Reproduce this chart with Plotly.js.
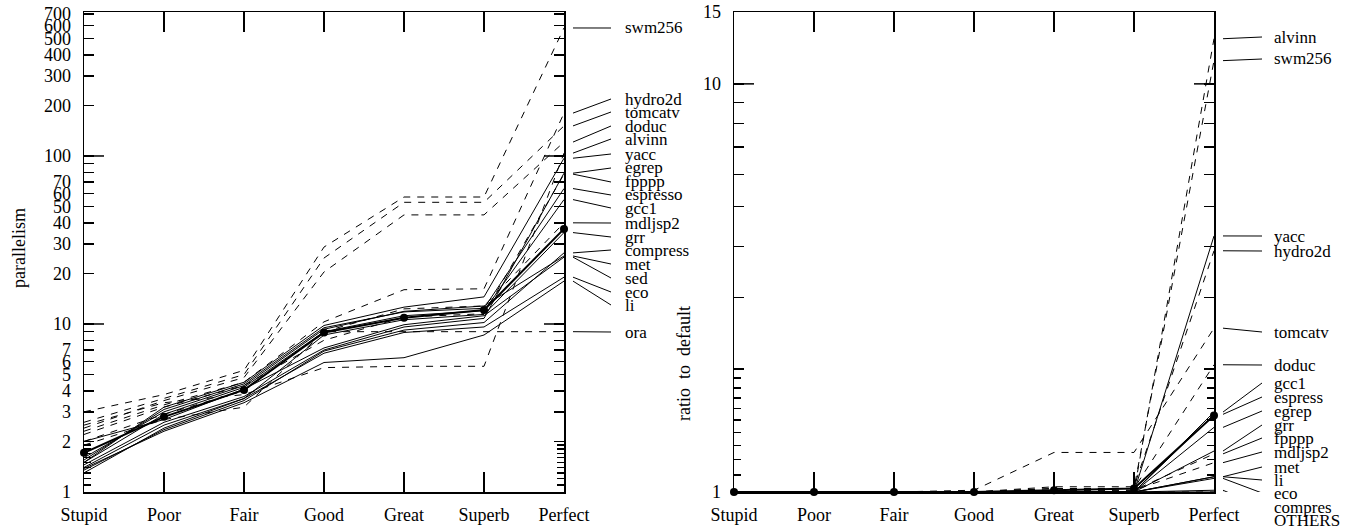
<!DOCTYPE html>
<html><head><meta charset="utf-8">
<script src="https://cdn.plot.ly/plotly-3.0.1.min.js"></script>
<style>html,body{margin:0;padding:0;background:#fff}#chart{width:1363px;height:529px}</style>
</head><body><div id="chart"></div>
<script>
// ---------- categories ----------
const models = ['Stupid','Poor','Fair','Good','Great','Superb','Perfect'];
const benchmarks = ['swm256','hydro2d','tomcatv','doduc','alvinn','yacc','egrep','fpppp','espresso','gcc1','mdljsp2','grr','compress','met','sed','eco','li','ora'];
const numericBenchmarks = ['swm256','hydro2d','tomcatv','doduc','alvinn','fpppp','mdljsp2','ora'];

// ---------- left: parallelism ----------
const parSwm256   = [3.0, 3.8, 5.3, 28.7, 57, 57, 578];
const parTomcatv  = [2.6, 3.6, 5.0, 24.7, 53, 53, 151];
const parDoduc    = [2.4, 3.5, 4.8, 20.4, 44.6, 44.6, 121];
const parHydro2d  = [2.3, 3.3, 4.5, 10.3, 16, 16.2, 180];
const parFpppp    = [2.2, 3.2, 4.3, 8.0, 11.0, 11.5, 78];
const parMdljsp2  = [2.0, 2.9, 4.0, 9.0, 12.3, 12.8, 40];
const parAlvinn   = [2.5, 3.4, 3.8, 5.5, 5.6, 5.6, 104];
const parOra      = [1.9, 2.7, 3.2, 9.0, 9.0, 9.0, 9.0];
const parYacc     = [1.5, 3.2, 4.5, 9.8, 12.6, 14.5, 97];
const parEgrep    = [1.45, 2.6, 3.7, 7.0, 9.6, 10.8, 79];
const parEspresso = [1.55, 3.1, 4.4, 9.5, 11.8, 12.4, 64];
const parGcc1     = [1.5, 2.9, 4.2, 9.0, 11.2, 12.0, 55];
const parGrr      = [1.4, 2.5, 3.6, 8.6, 10.6, 11.4, 35];
const parCompress = [1.35, 2.35, 3.5, 6.9, 9.2, 10.2, 26.5];
const parMet      = [1.6, 3.0, 4.3, 9.3, 11.9, 12.8, 25.4];
const parSed      = [2.0, 2.7, 4.1, 7.2, 9.9, 11.2, 25];
const parEco      = [1.3, 2.4, 3.6, 6.7, 8.9, 9.6, 19];
const parLi       = [1.38, 2.3, 3.4, 5.9, 6.3, 8.6, 18];
const parMean     = [1.71, 2.8, 4.05, 8.9, 10.9, 12.1, 36.8];

// ---------- right: ratio to default ----------
const ratSwm256   = [1, 1, 1, 1, 1.02, 1.02, 11.4];
const ratTomcatv  = [1, 1, 1, 1.01, 1.25, 1.25, 2.52];
const ratDoduc    = [1, 1, 1, 1, 1.02, 1.02, 2.05];
const ratHydro2d  = [1, 1, 1, 1, 1.03, 1.03, 3.9];
const ratFpppp    = [1, 1, 1, 1, 1.01, 1.01, 1.24];
const ratMdljsp2  = [1, 1, 1, 1, 1.01, 1.01, 1.18];
const ratAlvinn   = [1, 1, 1, 1, 1.0, 1.0, 12.9];
const ratOra      = [1, 1, 1, 1, 1, 1, 1.0];
const ratYacc     = [1, 1, 1, 1, 1, 1, 4.24];
const ratEgrep    = [1, 1, 1, 1, 1, 1, 1.44];
const ratEspresso = [1, 1, 1, 1, 1, 1, 1.55];
const ratGcc1     = [1, 1, 1, 1, 1, 1, 1.57];
const ratGrr      = [1, 1, 1, 1, 1, 1, 1.26];
const ratCompress = [1, 1, 1, 1, 1, 1, 1.01];
const ratMet      = [1, 1, 1, 1, 1, 1, 1.09];
const ratSed      = [1, 1, 1, 1, 1, 1, 1.0];
const ratEco      = [1, 1, 1, 1, 1, 1, 1.08];
const ratLi       = [1, 1, 1, 1, 1, 1, 1.09];
const ratMean     = [1, 1, 1, 1, 1.01, 1.02, 1.54];

// ---------- tick labels ----------
const leftTickVals = [1,2,3,4,5,6,7,8,9,10,20,30,40,50,60,70,80,90,100,200,300,400,500,600,700];
const leftTickText = ['1','2','3','4','5','6','7','','','10','20','30','40','50','60','70','','','100','200','300','400','500','600','700'];
const leftMinorVals = [1.1,1.2,1.3,1.4,1.5,1.6,1.7,1.8,1.9];
const leftLongTicks = [10, 100];
const rightTickVals = [1,2,3,4,5,6,7,8,9,10,15];
const rightTickText = ['1','','','','','','','','','10','15'];
const rightMinorVals = [1.1,1.2,1.3,1.4,1.5,1.6,1.7,1.8,1.9];
const rightLongTicks = [10];

// right-hand labels (text, benchmark key)
const rightLabelText = ['alvinn','swm256','yacc','hydro2d','tomcatv','doduc','gcc1','espress','egrep','grr','fpppp','mdljsp2','met','li','eco','compres','OTHERS'];
const rightLabelKey  = ['alvinn','swm256','yacc','hydro2d','tomcatv','doduc','gcc1','espresso','egrep','grr','fpppp','mdljsp2','met','li','eco','compress','sed'];

// ---------- layout positions (pixels) ----------
const W = 1363, H = 529;
const PTOP = 12, PBOT = 492;
const LX0 = 84, LX1 = 564, RX0 = 734, RX1 = 1214;
const leftLabelPix  = [28,99,112,126,139,154,168,182,195,208,223,237,250,264,278,292,305,332];
const rightLabelPix = [37,59,236,251,332,365,383,397,411,425,438,452,467,480,493,507,520];
const L_RANGE = [0, 2.857];
const R_RANGE = [0, Math.log10(15)];

const par = {swm256:parSwm256, hydro2d:parHydro2d, tomcatv:parTomcatv, doduc:parDoduc, alvinn:parAlvinn, yacc:parYacc, egrep:parEgrep, fpppp:parFpppp, espresso:parEspresso, gcc1:parGcc1, mdljsp2:parMdljsp2, grr:parGrr, compress:parCompress, met:parMet, sed:parSed, eco:parEco, li:parLi, ora:parOra};
const rat = {swm256:ratSwm256, hydro2d:ratHydro2d, tomcatv:ratTomcatv, doduc:ratDoduc, alvinn:ratAlvinn, yacc:ratYacc, egrep:ratEgrep, fpppp:ratFpppp, espresso:ratEspresso, gcc1:ratGcc1, mdljsp2:ratMdljsp2, grr:ratGrr, compress:ratCompress, met:ratMet, sed:ratSed, eco:ratEco, li:ratLi, ora:ratOra};

const FONT = 'Liberation Serif, Times New Roman, serif';
const DASH = '7px,7px';
const px = p => p / W;
const py = p => 1 - p / H;
const yDom = [py(PBOT), py(PTOP)];
const pixToVal = (p, range) => Math.pow(10, range[0] + (range[1]-range[0]) * (PBOT - p) / (PBOT - PTOP));
const valToPaper = (v, range) => yDom[0] + (yDom[1]-yDom[0]) * (Math.log10(v) - range[0]) / (range[1]-range[0]);

const traces = [];
benchmarks.forEach(b => {
  const dash = numericBenchmarks.includes(b) ? DASH : 'solid';
  traces.push({type:'scatter', mode:'lines', x:models, y:par[b], xaxis:'x', yaxis:'y',
    line:{color:'#000', width:1, dash:dash}, hoverinfo:'skip'});
  traces.push({type:'scatter', mode:'lines', x:models, y:rat[b], xaxis:'x2', yaxis:'y2',
    line:{color:'#000', width:1, dash:dash}, hoverinfo:'skip'});
});
traces.push({type:'scatter', mode:'lines+markers', x:models, y:parMean, xaxis:'x', yaxis:'y', cliponaxis:false,
  line:{color:'#000', width:2}, marker:{color:'#000', size:8}, hoverinfo:'skip'});
traces.push({type:'scatter', mode:'lines+markers', x:models, y:ratMean, xaxis:'x2', yaxis:'y2', cliponaxis:false,
  line:{color:'#000', width:2}, marker:{color:'#000', size:8}, hoverinfo:'skip'});

// leader lines and labels
const annotations = [];
benchmarks.forEach((b, i) => {
  traces.push({type:'scatter', mode:'lines', x:[0,1], y:[par[b][6], pixToVal(leftLabelPix[i], L_RANGE)],
    xaxis:'x5', yaxis:'y5', line:{color:'#000', width:1}, hoverinfo:'skip'});
  annotations.push({xref:'paper', yref:'paper', x:px(623), y:py(leftLabelPix[i]), xanchor:'left', yanchor:'middle',
    text:b, showarrow:false, font:{family:FONT, size:17, color:'#000'}});
});
rightLabelText.forEach((t, i) => {
  traces.push({type:'scatter', mode:'lines', x:[0,1], y:[rat[rightLabelKey[i]][6], pixToVal(rightLabelPix[i], R_RANGE)],
    xaxis:'x6', yaxis:'y6', line:{color:'#000', width:1}, hoverinfo:'skip'});
  annotations.push({xref:'paper', yref:'paper', x:px(1272), y:py(rightLabelPix[i]), xanchor:'left', yanchor:'middle',
    text:t, showarrow:false, font:{family:FONT, size:17, color:'#000'}});
});
annotations.push({xref:'paper', yref:'paper', x:px(19), y:py(248), textangle:-90, xanchor:'center', yanchor:'middle',
  text:'parallelism', showarrow:false, font:{family:FONT, size:18, color:'#000'}});
annotations.push({xref:'paper', yref:'paper', x:px(684), y:py(364), textangle:-90, xanchor:'center', yanchor:'middle',
  text:'ratio\u00a0\u00a0to\u00a0\u00a0default', showarrow:false, font:{family:FONT, size:18, color:'#000'}});

// long (decade) tick marks on both vertical axes of each panel
const shapes = [];
const addLongTicks = (vals, range, x0, x1) => vals.forEach(v => {
  const y = valToPaper(v, range);
  shapes.push({type:'line', xref:'paper', yref:'paper', x0:px(x0), x1:px(x0+20), y0:y, y1:y, line:{color:'#000', width:1.5}});
  shapes.push({type:'line', xref:'paper', yref:'paper', x0:px(x1-20), x1:px(x1), y0:y, y1:y, line:{color:'#000', width:1.5}});
});
addLongTicks(leftLongTicks, L_RANGE, LX0, LX1);
addLongTicks(rightLongTicks, R_RANGE, RX0, RX1);

const axisCommon = {showline:true, linecolor:'#000', linewidth:1.5, mirror:'allticks', ticks:'inside', tickcolor:'#000',
  tickwidth:1.5, showgrid:false, zeroline:false, tickfont:{family:FONT, size:18, color:'#000'}, fixedrange:true};
const hidden = {visible:false, showgrid:false, zeroline:false, fixedrange:true};

const layout = {
  width:W, height:H, margin:{l:0, r:0, t:0, b:0}, paper_bgcolor:'#fff', plot_bgcolor:'rgba(0,0,0,0)',
  showlegend:false, hovermode:false, font:{family:FONT, color:'#000'},
  xaxis:Object.assign({}, axisCommon, {domain:[px(LX0), px(LX1)], type:'category', categoryorder:'array', categoryarray:models,
    range:[0,6], ticklen:20, anchor:'y', ticklabelstandoff:6}),
  yaxis:Object.assign({}, axisCommon, {domain:yDom, type:'log', range:L_RANGE, tickmode:'array', tickvals:leftTickVals,
    ticktext:leftTickText, ticklen:10, anchor:'x', ticklabelstandoff:8,
    minor:{tickmode:'array', tickvals:leftMinorVals, ticklen:7, ticks:'inside', tickwidth:1.5, tickcolor:'#000'}}),
  xaxis2:Object.assign({}, axisCommon, {domain:[px(RX0), px(RX1)], type:'category', categoryorder:'array', categoryarray:models,
    range:[0,6], ticklen:20, anchor:'y2', ticklabelstandoff:6}),
  yaxis2:Object.assign({}, axisCommon, {domain:yDom, type:'log', range:R_RANGE, tickmode:'array', tickvals:rightTickVals,
    ticktext:rightTickText, ticklen:10, anchor:'x2', ticklabelstandoff:8,
    minor:{tickmode:'array', tickvals:rightMinorVals, ticklen:7, ticks:'inside', tickwidth:1.5, tickcolor:'#000'}}),
  xaxis5:Object.assign({}, hidden, {domain:[px(573), px(611)], range:[0,1], anchor:'y5'}),
  yaxis5:Object.assign({}, hidden, {domain:yDom, type:'log', range:L_RANGE, anchor:'x5'}),
  xaxis6:Object.assign({}, hidden, {domain:[px(1223), px(1262)], range:[0,1], anchor:'y6'}),
  yaxis6:Object.assign({}, hidden, {domain:yDom, type:'log', range:R_RANGE, anchor:'x6'}),
  shapes:shapes,
  annotations:annotations
};
Plotly.newPlot('chart', traces, layout, {staticPlot:true, displayModeBar:false});
</script></body></html>
